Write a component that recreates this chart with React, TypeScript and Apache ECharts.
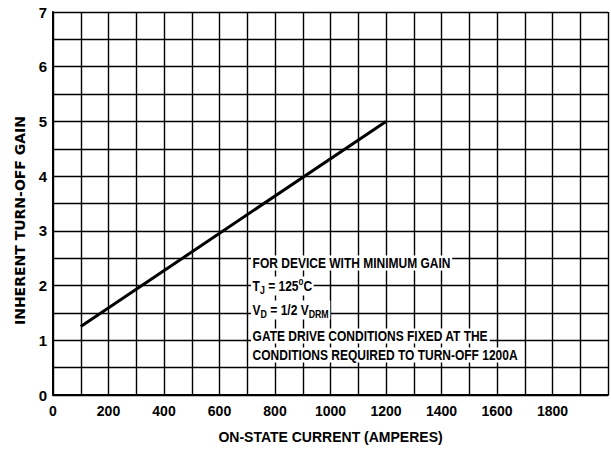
import React, { useEffect, useRef } from "react";
import * as echarts from "echarts";

const xTickLabels = [0, 200, 400, 600, 800, 1000, 1200, 1400, 1600, 1800];
const yTickLabels = [0, 1, 2, 3, 4, 5, 6, 7];
const currentAmps = [100, 1200];
const turnOffGain = [1.25, 5.0];
const noteLines = [
  "FOR DEVICE WITH MINIMUM GAIN",
  "{n|T}{sub|J}{n| = 125}{sup|o}{n|C}",
  "{n|V}{sub|D}{n| = 1/2 V}{sub|DRM}",
  "GATE DRIVE CONDITIONS FIXED AT THE",
  "CONDITIONS REQUIRED TO TURN-OFF 1200A",
];

const LIB = "'Liberation Sans', Arial, sans-serif";
const DJV = "'DejaVu Sans', sans-serif";

export default function App() {
  const ref = useRef<HTMLDivElement>(null);
  useEffect(() => {
    if (!ref.current) return;
    const chart = echarts.init(ref.current, undefined, { renderer: "svg" });
    const noteY = [263, 286, 310, 336, 355];
    chart.setOption({
      animation: false,
      backgroundColor: "#ffffff",
      grid: { left: 53, top: 12, right: 3, bottom: 52, containLabel: false },
      xAxis: {
        type: "value",
        min: 0,
        max: 2000,
        interval: 100,
        name: "ON-STATE CURRENT (AMPERES)",
        nameLocation: "middle",
        nameGap: 35,
        nameTextStyle: { fontFamily: LIB, fontWeight: "bold", fontSize: 14, color: "#000" },
        axisLine: { show: true, lineStyle: { color: "#000", width: 2 } },
        axisTick: { show: false },
        axisLabel: {
          margin: 9,
          fontFamily: LIB,
          fontWeight: "bold",
          fontSize: 14,
          color: "#000",
          showMaxLabel: false,
          formatter: (v: number) => (xTickLabels.includes(v) ? String(v) : ""),
        },
        splitLine: { show: true, lineStyle: { color: "#000", width: 1.4 } },
      },
      yAxis: {
        type: "value",
        min: 0,
        max: 7,
        interval: 0.5,
        name: "{a|INHERENT TURN-OFF GAIN}{s|}",
        nameLocation: "middle",
        nameGap: 26,
        nameTextStyle: {
          fontFamily: DJV,
          fontWeight: "bold",
          fontSize: 14,
          color: "#000",
          rich: {
            a: { fontFamily: DJV, fontWeight: "bold", fontSize: 14, color: "#000" },
            s: { width: 34 },
          },
        },
        axisLine: { show: true, lineStyle: { color: "#000", width: 2 } },
        axisTick: { show: false },
        axisLabel: {
          margin: 6,
          fontFamily: LIB,
          fontWeight: "bold",
          fontSize: 15,
          color: "#000",
          formatter: (v: number) => (yTickLabels.includes(v) ? String(v) : ""),
        },
        splitLine: { show: true, lineStyle: { color: "#000", width: 1.4 } },
      },
      series: [
        {
          type: "line",
          data: currentAmps.map((x, i) => [x, turnOffGain[i]]),
          symbol: "none",
          lineStyle: { color: "#000", width: 3 },
          z: 5,
        },
      ],
      graphic: noteLines.map((t, i) => ({
        type: "text",
        x: 251,
        y: noteY[i],
        scaleX: 0.8,
        z: 10,
        style: {
          text: t,
          fill: "#000",
          font: `bold 15px ${LIB}`,
          verticalAlign: "middle",
          align: "left",
          backgroundColor: "#fff",
          padding: [0, 2, 0, 2],
          rich: {
            n: { fontFamily: LIB, fontWeight: "bold", fontSize: 15, color: "#000" },
            sub: { fontFamily: LIB, fontWeight: "bold", fontSize: 11, color: "#000", padding: [8, 0, 0, 0] },
            sup: { fontFamily: LIB, fontWeight: "bold", fontSize: 10, color: "#000", padding: [0, 0, 8, 0] },
          },
        },
      })),
    });
    return () => chart.dispose();
  }, []);
  return (
    <div
      ref={ref}
      style={{ position: "absolute", left: 0, top: 0, width: 611, height: 449 }}
    />
  );
}
